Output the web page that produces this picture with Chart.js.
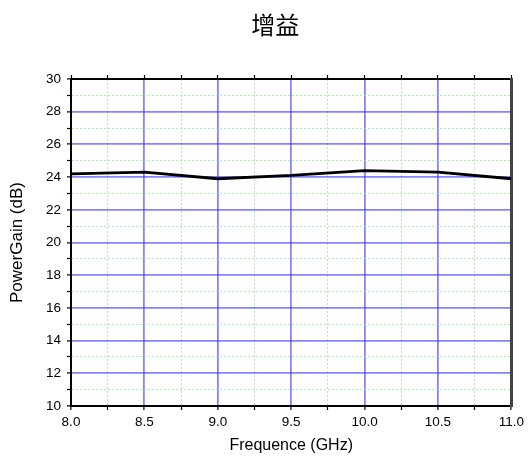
<!DOCTYPE html>
<html>
<head>
<meta charset="utf-8">
<script src="https://cdn.jsdelivr.net/npm/chart.js@4/dist/chart.umd.min.js"></script>
<style>
  html, body { margin: 0; padding: 0; background: #fff; }
  #wrap { width: 528px; height: 459px; }
</style>
</head>
<body>
<div id="wrap"><canvas id="gainChart" width="528" height="459"></canvas></div>
<script>
// 频率 (GHz) 和 增益 (dB)
const freqGHz = [8.0, 8.5, 9.0, 9.5, 10.0, 10.5, 11.0];
const powerGain = [24.2, 24.3, 23.9, 24.1, 24.4, 24.3, 23.9];

const xMin = 8, xMax = 11, xStep = 0.25;   // 主刻度 0.5
const yMin = 10, yMax = 30, yStep = 1;     // 主刻度 2

const MAJOR = 'rgba(50, 50, 255, 0.6)';
const MINOR = 'rgba(150, 235, 150, 0.8)';

function isMajorX(v) { return Math.abs(v * 2 - Math.round(v * 2)) < 1e-6; }
function isMajorY(v) { return Math.round(v) % 2 === 0; }

// 标题画在图表上方，稍微偏左于绘图区中心
const titlePlugin = {
    id: 'cnTitle',
    afterDraw(chart) {
        const c = chart.ctx;
        const a = chart.chartArea;
        c.save();
        c.fillStyle = '#000';
        c.font = '24px "Noto Sans CJK SC"';
        c.textAlign = 'center';
        c.textBaseline = 'middle';
        c.fillText('增益', (a.left + a.right) / 2 - 16, 25);
        c.restore();
    }
};

const ctx = document.getElementById('gainChart').getContext('2d');
new Chart(ctx, {
    type: 'line',
    data: {
        datasets: [{
            label: 'PowerGain',
            data: freqGHz.map((f, i) => ({ x: f, y: powerGain[i] })),
            borderColor: '#000',
            borderWidth: 2.8,
            pointRadius: 0,
            tension: 0,
            fill: false
        }]
    },
    plugins: [titlePlugin],
    options: {
        responsive: false,
        animation: false,
        layout: { padding: { left: 0, right: 15, top: 79, bottom: 0 } },
        plugins: {
            legend: { display: false },
            tooltip: { enabled: false },
            title: { display: false }
        },
        scales: {
            x: {
                type: 'linear',
                position: 'bottom',
                min: xMin, max: xMax,
                afterFit: s => { s.height = 53; },
                ticks: {
                    stepSize: xStep,
                    autoSkip: false,
                    maxRotation: 0,
                    padding: 4,
                    color: '#000',
                    font: { family: 'Arial, "Liberation Sans"', size: 13.5 },
                    callback: v => isMajorX(v) ? v.toFixed(1) : ''
                },
                grid: {
                    color: c => isMajorX(c.tick.value) ? MAJOR : MINOR,
                    lineWidth: c => isMajorX(c.tick.value) ? 1.8 : 1,
                    tickColor: '#000',
                    tickLength: 4,
                    tickWidth: 1.2
                },
                border: {
                    display: true, color: '#000', width: 2,
                    dash: c => (c.tick && isMajorX(c.tick.value)) ? [] : [2, 2]
                },
                title: {
                    display: true,
                    text: 'Frequence (GHz)',
                    color: '#000',
                    font: { family: 'Arial, "Liberation Sans"', size: 16 },
                    padding: { top: 0, bottom: 4 }
                }
            },
            x2: {
                type: 'linear',
                position: 'top',
                min: xMin, max: xMax,
                afterFit: s => { s.height = 0; },
                ticks: { display: false, stepSize: xStep, autoSkip: false },
                grid: {
                    drawOnChartArea: false,
                    tickColor: '#000',
                    tickLength: 4,
                    tickWidth: 1.2
                },
                border: { display: true, color: '#000', width: 2 }
            },
            y: {
                type: 'linear',
                position: 'left',
                min: yMin, max: yMax,
                afterFit: s => { s.width = 71; },
                ticks: {
                    stepSize: yStep,
                    autoSkip: false,
                    padding: 6,
                    color: '#000',
                    font: { family: 'Arial, "Liberation Sans"', size: 13.5 },
                    callback: v => isMajorY(v) ? String(v) : ''
                },
                grid: {
                    color: c => isMajorY(c.tick.value) ? MAJOR : MINOR,
                    lineWidth: c => isMajorY(c.tick.value) ? 1.8 : 1,
                    tickColor: '#000',
                    tickLength: 4,
                    tickWidth: 1.2
                },
                border: {
                    display: true, color: '#000', width: 2,
                    dash: c => (c.tick && isMajorY(c.tick.value)) ? [] : [2, 2]
                },
                title: {
                    display: true,
                    text: 'PowerGain (dB)',
                    color: '#000',
                    font: { family: 'Arial, "Liberation Sans"', size: 17 },
                    padding: { top: 7, bottom: 0 }
                }
            },
            y2: {
                type: 'linear',
                position: 'right',
                min: yMin, max: yMax,
                afterFit: s => { s.width = 0; },
                ticks: { display: false },
                grid: { display: false, drawTicks: false },
                border: { display: true, color: '#444', width: 3 }
            }
        }
    }
});
</script>
</body>
</html>
